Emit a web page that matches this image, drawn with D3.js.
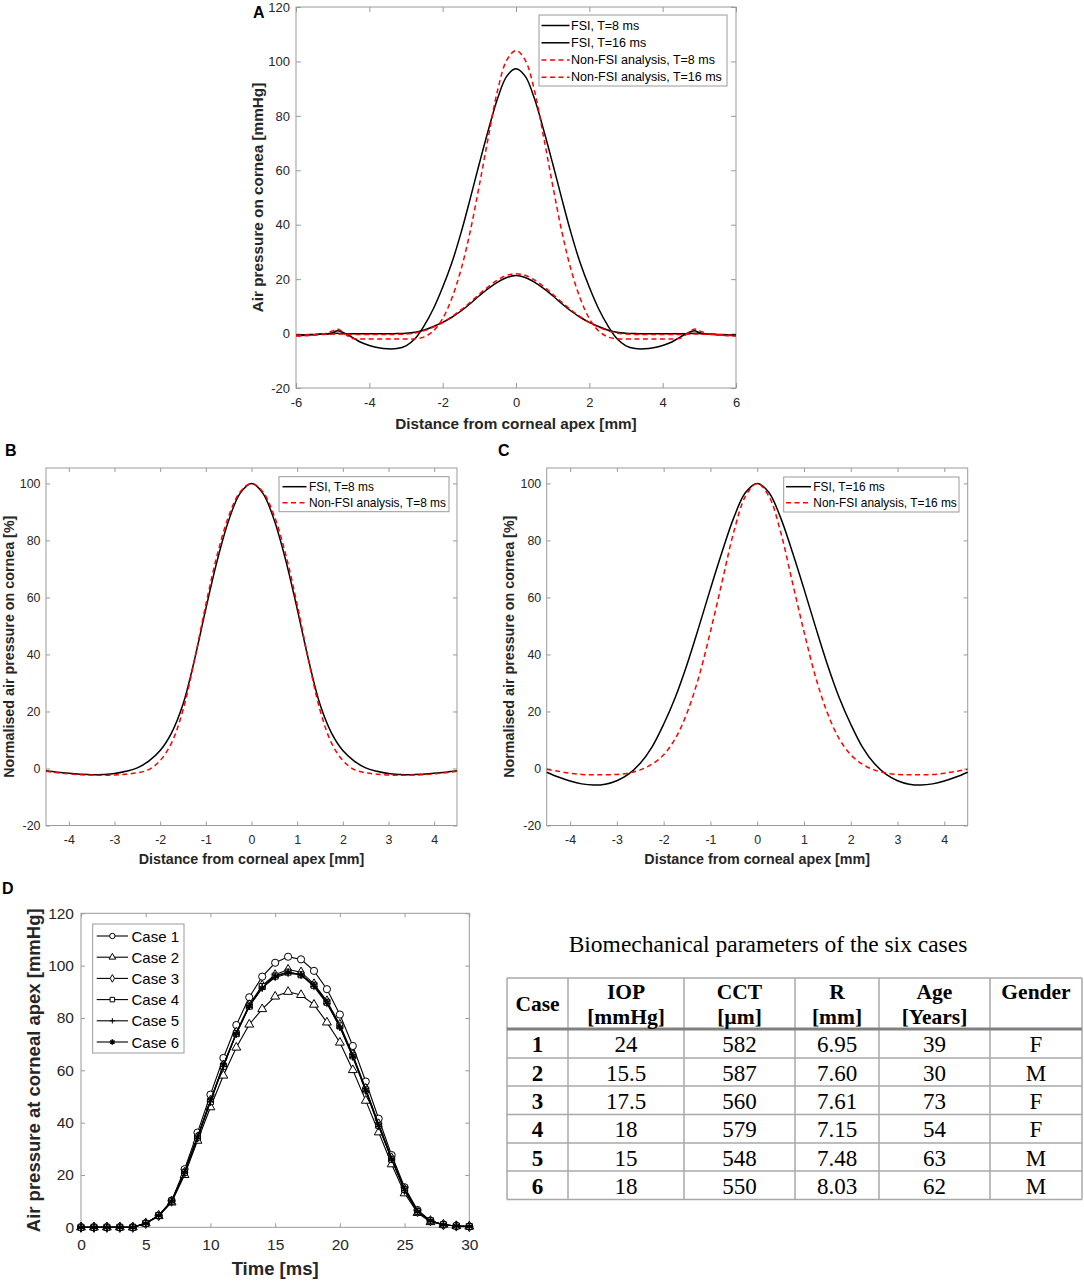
<!DOCTYPE html>
<html>
<head>
<meta charset="utf-8">
<script src="https://cdn.jsdelivr.net/npm/d3@7"></script>
<style>
  body { margin: 0; background: #fff; }
  svg { display: block; font-family: "Liberation Sans", Arial, sans-serif; }
</style>
</head>
<body>
<script>
// ---- data: panel A (mm from apex, pressure in mmHg)
var xA = [-6,-5.75,-5.5,-5.25,-5,-4.875,-4.75,-4.5,-4.25,-4,-3.75,-3.5,-3.25,-3,-2.75,-2.5,-2.25,-2,-1.75,-1.5,-1.25,-1,-0.75,-0.5,-0.25,0,
          0.25,0.5,0.75,1,1.25,1.5,1.75,2,2.25,2.5,2.75,3,3.25,3.5,3.75,4,4.25,4.5,4.75,4.875,5,5.25,5.5,5.75,6];
var fsi8A = [-0.5,-0.4,-0.3,-0.2,0,0.1,0,-0.1,-0.1,-0.1,-0.1,-0.1,0,0.1,0.5,1.3,2.6,4.1,6.0,8.3,11.0,13.9,16.6,18.9,20.6,21.3,
             20.6,18.9,16.6,13.9,11.0,8.3,6.0,4.1,2.6,1.3,0.5,0.1,0,-0.1,-0.1,-0.1,-0.1,-0.1,0,0.1,0,-0.2,-0.3,-0.4,-0.5];
var fsi16A = [-0.7,-0.6,-0.4,-0.2,0.3,1.0,0.6,-1.1,-3.1,-4.4,-5.2,-5.6,-5.5,-4.5,-1.8,3.0,9.2,17.0,26.0,37.0,49.5,62.5,75.0,86.5,94.6,97.3,
              94.6,86.5,75.0,62.5,49.5,37.0,26.0,17.0,9.2,3.0,-1.8,-4.5,-5.5,-5.6,-5.2,-4.4,-3.1,-1.1,0.6,1.0,0.3,-0.2,-0.4,-0.6,-0.7];
var nfsi8A = [-0.6,-0.5,-0.4,-0.3,-0.2,-0.2,-0.2,-0.3,-0.3,-0.3,-0.3,-0.3,-0.3,-0.2,0.2,1.1,2.4,4.0,6.2,8.7,11.5,14.5,17.3,19.7,21.4,22.0,
              21.4,19.7,17.3,14.5,11.5,8.7,6.2,4.0,2.4,1.1,0.2,-0.2,-0.3,-0.3,-0.3,-0.3,-0.3,-0.3,-0.2,-0.2,-0.2,-0.3,-0.4,-0.5,-0.6];
var nfsi16A = [-0.9,-0.8,-0.5,-0.1,1.0,1.7,0.8,-1.6,-2.0,-2.0,-2.0,-2.0,-2.0,-2.0,-1.9,-1.2,1.0,5.5,13.0,23.5,37.5,54.5,72.5,89.5,100.5,104.0,
               100.5,89.5,72.5,54.5,37.5,23.5,13.0,5.5,1.0,-1.2,-1.9,-2.0,-2.0,-2.0,-2.0,-2.0,-2.0,-1.6,0.8,1.7,1.0,-0.1,-0.5,-0.8,-0.9];

// ---- data: panels B and C (normalised, %)
var xBC = [-4.5,-4.25,-4,-3.75,-3.5,-3.25,-3,-2.75,-2.5,-2.25,-2,-1.75,-1.5,-1.25,-1,-0.75,-0.5,-0.25,0,
           0.25,0.5,0.75,1,1.25,1.5,1.75,2,2.25,2.5,2.75,3,3.25,3.5,3.75,4,4.25,4.5];
var fsi8B = [-0.8,-1.3,-1.7,-2.0,-2.2,-2.1,-1.8,-1.0,0.2,2.6,6.3,12.5,22.5,38.0,56.0,73.0,87.0,96.5,100,
             96.5,87.0,73.0,56.0,38.0,22.5,12.5,6.3,2.6,0.2,-1.0,-1.8,-2.1,-2.2,-2.0,-1.7,-1.3,-0.8];
var nfsi8B = [-1.0,-1.5,-1.9,-2.2,-2.3,-2.4,-2.3,-2.0,-1.5,-0.4,2.8,9.0,20.5,38.0,57.5,75.0,88.5,97.0,100,
              97.0,88.5,75.0,57.5,38.0,20.5,9.0,2.8,-0.4,-1.5,-2.0,-2.3,-2.4,-2.3,-2.2,-1.9,-1.5,-1.0];
var fsi16C = [-1.3,-3.0,-4.4,-5.4,-5.8,-5.5,-4.3,-2.0,1.8,7.5,15.5,25.0,36.5,49.5,63.0,76.0,88.0,96.8,100,
              96.8,88.0,76.0,63.0,49.5,36.5,25.0,15.5,7.5,1.8,-2.0,-4.3,-5.5,-5.8,-5.4,-4.4,-3.0,-1.3];
var nfsi16C = [-0.3,-1.0,-1.7,-2.1,-2.2,-2.2,-2.1,-1.6,-0.5,1.5,4.8,10.5,19.5,32.0,48.0,65.5,83.0,95.5,100,
               95.5,83.0,65.5,48.0,32.0,19.5,10.5,4.8,1.5,-0.5,-1.6,-2.1,-2.2,-2.2,-2.1,-1.7,-1.0,-0.3];

// ---- data: panel D (time in ms, pressure at apex in mmHg)
var timeD = [0,1,2,3,4,5,6,7,8,9,10,11,12,13,14,15,16,17,18,19,20,21,22,23,24,25,26,27,28,29,30];
var case1 = [0,0,0,0,0,1.5,4.5,10.2,22.2,36.2,50.7,64.7,77.3,87.9,95.8,101.1,103.4,102.4,98.0,91.0,81.3,69.3,55.7,41.5,27.6,15.3,6.6,2.5,1.0,0.5,0.3];
var case2 = [0,0,0,0,0,1.5,4.3,9.5,20.0,33.1,45.9,58.0,68.7,77.5,83.4,88.2,90.0,88.8,85.1,78.3,70.6,60.1,48.4,36.3,24.1,13.0,5.5,2.0,1.0,0.5,0.3];
var case3 = [0,0,0,0,0,1.5,4.5,10.0,21.0,34.5,48.5,62.0,74.5,85.0,92.5,96.5,98.5,97.5,93.0,86.5,77.5,66.0,53.0,39.5,26.5,14.5,6.0,2.5,1.0,0.5,0.3];
var case4 = [0,0,0,0,0,1.5,4.5,10.0,21.0,34.5,48.0,61.5,74.0,84.5,92.0,96.0,97.5,96.5,92.5,86.0,77.0,65.5,52.5,39.0,26.0,14.5,6.0,2.5,1.0,0.5,0.3];
var case5 = [0,0,0,0,0,1.5,4.5,10.0,21.0,34.0,48.0,61.5,74.0,84.5,91.5,95.5,97.0,96.5,92.0,85.5,76.5,65.0,52.0,38.5,26.0,14.0,6.0,2.5,1.0,0.5,0.3];
var case6 = [0,0,0,0,0,1.5,4.5,10.0,21.0,34.5,48.5,62.0,74.0,84.5,91.5,96.0,97.5,96.5,92.5,86.0,76.5,65.5,52.5,39.0,26.0,14.5,6.0,2.5,1.0,0.5,0.3];
var caseNames = ["Case 1","Case 2","Case 3","Case 4","Case 5","Case 6"];

// ---- data: table
var tableTitle = "Biomechanical parameters of the six cases";
var headTop = ["Case","IOP","CCT","R","Age","Gender"];
var headBottom = ["","[mmHg]","[\u00b5m]","[mm]","[Years]",""];
var colCase = ["1","2","3","4","5","6"];
var colIOP = ["24","15.5","17.5","18","15","18"];
var colCCT = ["582","587","560","579","548","550"];
var colR = ["6.95","7.60","7.61","7.15","7.48","8.03"];
var colAge = ["39","30","73","54","63","62"];
var colGender = ["F","M","F","F","M","M"];

// ---- drawing
var W = 1084, H = 1281;
var svg = d3.select("body").append("svg").attr("width", W).attr("height", H);
svg.append("rect").attr("width", W).attr("height", H).attr("fill", "#fff");

var axisGrey = "#9a9a9a", textCol = "#262626";
var fmt = function(d){ return String(d); };

function panel(p) {
  var x = d3.scaleLinear().domain(p.xDom).range([p.left, p.right]);
  var y = d3.scaleLinear().domain(p.yDom).range([p.bottom, p.top]);
  var g = svg.append("g");

  var ax = [
    [d3.axisBottom(x).tickValues(p.xTicks).tickFormat(fmt).tickPadding(p.xPad), "translate(0," + p.bottom + ")"],
    [d3.axisTop(x).tickValues(p.xTicks).tickFormat(""), "translate(0," + p.top + ")"],
    [d3.axisLeft(y).tickValues(p.yTicks).tickFormat(fmt).tickPadding(p.yPad), "translate(" + p.left + ",0)"],
    [d3.axisRight(y).tickValues(p.yTicks).tickFormat(""), "translate(" + p.right + ",0)"]
  ];
  ax.forEach(function(a){
    var s = g.append("g").attr("transform", a[1])
      .call(a[0].tickSizeInner(-p.tick).tickSizeOuter(0));
    s.select(".domain").remove();
    s.selectAll("line").attr("stroke", axisGrey);
    s.selectAll("text").attr("fill", textCol).style("font-size", p.tickFont + "px")
      .style("font-family", "'Liberation Sans', Arial, sans-serif");
  });
  g.append("rect").attr("x", p.left).attr("y", p.top)
    .attr("width", p.right - p.left).attr("height", p.bottom - p.top)
    .attr("fill", "none").attr("stroke", axisGrey).attr("stroke-width", 1);

  // axis titles
  g.append("text").attr("x", (p.left + p.right) / 2).attr("y", p.xLabY)
    .attr("text-anchor", "middle").attr("dominant-baseline", "central")
    .attr("font-weight", "bold").attr("font-size", p.labFont).attr("fill", textCol)
    .text(p.xLabel);
  g.append("text").attr("transform", "translate(" + p.yLabX + "," + ((p.top + p.bottom) / 2) + ") rotate(-90)")
    .attr("text-anchor", "middle").attr("dominant-baseline", "central")
    .attr("font-weight", "bold").attr("font-size", p.labFont).attr("fill", textCol)
    .text(p.yLabel);

  // panel letter
  g.append("text").attr("x", p.letter[1]).attr("y", p.letter[2])
    .attr("font-weight", "bold").attr("font-size", 16).attr("fill", "#000")
    .text(p.letter[0]);

  // curves
  var line = d3.line().x(function(d){ return x(d[0]); }).y(function(d){ return y(d[1]); })
    .curve(p.curve || d3.curveCatmullRom.alpha(0.5));
  p.series.forEach(function(s){
    var pts = s.x.map(function(v, i){ return [v, s.y[i]]; });
    g.append("path").datum(pts).attr("d", line)
      .attr("fill", "none").attr("stroke", s.color).attr("stroke-width", s.width || 1.5)
      .attr("stroke-dasharray", s.dash || null);
    if (s.marker) {
      g.selectAll(null).data(pts).enter().append("path")
        .attr("transform", function(d){ return "translate(" + x(d[0]) + "," + y(d[1]) + ")"; })
        .attr("d", markerPath(s.marker, 1))
        .attr("fill", markerFill(s.marker)).attr("stroke", "#000")
        .attr("stroke-width", s.marker === "star" ? 1.6 : 1);
    }
  });

  // legend
  var L = p.legend;
  g.append("rect").attr("x", L.box[0]).attr("y", L.box[1])
    .attr("width", L.box[2] - L.box[0]).attr("height", L.box[3] - L.box[1])
    .attr("fill", "#fff").attr("stroke", axisGrey).attr("stroke-width", 1);
  p.series.forEach(function(s, i){
    var yy = L.rows[i];
    g.append("line").attr("x1", L.sample[0]).attr("x2", L.sample[1]).attr("y1", yy).attr("y2", yy)
      .attr("stroke", s.color).attr("stroke-width", s.width || 1.5).attr("stroke-dasharray", s.dash || null);
    if (s.marker) {
      g.append("path").attr("transform", "translate(" + ((L.sample[0] + L.sample[1]) / 2) + "," + yy + ")")
        .attr("d", markerPath(s.marker, 0.75))
        .attr("fill", markerFill(s.marker)).attr("stroke", "#000")
        .attr("stroke-width", s.marker === "star" ? 1.6 : 1);
    }
    g.append("text").attr("x", L.textX).attr("y", yy).attr("dominant-baseline", "central")
      .attr("font-size", L.font).attr("fill", "#000").text(s.name);
  });
}

function markerPath(kind, k) {
  var r = 3.6 * k;
  if (kind === "circle") return d3.symbol(d3.symbolCircle, Math.PI * r * r)();
  if (kind === "triangle") return d3.symbol(d3.symbolTriangle, 34 * k * k)();
  if (kind === "diamond") return d3.symbol(d3.symbolDiamond, 30 * k * k)();
  if (kind === "square") return d3.symbol(d3.symbolSquare, 36 * k * k)();
  if (kind === "plus") return "M" + (-r) + ",0H" + r + "M0," + (-r) + "V" + r;
  // asterisk
  var a = r * 0.87, b = r * 0.5;
  return "M0," + (-r) + "V" + r + "M" + (-a) + "," + (-b) + "L" + a + "," + b + "M" + (-a) + "," + b + "L" + a + "," + (-b);
}
function markerFill(kind) { return (kind === "plus" || kind === "star") ? "none" : "#fff"; }

// panel A
panel({
  left: 296, right: 736, top: 7, bottom: 388,
  xDom: [-6, 6], yDom: [-20, 120],
  xTicks: [-6,-4,-2,0,2,4,6], yTicks: [-20,0,20,40,60,80,100,120],
  tick: 5, tickFont: 13, xPad: 10, yPad: 6,
  xLabel: "Distance from corneal apex [mm]", yLabel: "Air pressure on cornea [mmHg]",
  labFont: 15.3, xLabY: 423, yLabX: 257,
  letter: ["A", 253, 18],
  series: [
    {name: "FSI, T=8 ms", x: xA, y: fsi8A, color: "#000"},
    {name: "FSI, T=16 ms", x: xA, y: fsi16A, color: "#000"},
    {name: "Non-FSI analysis, T=8 ms", x: xA, y: nfsi8A, color: "#ff0000", dash: "5,3.5"},
    {name: "Non-FSI analysis, T=16 ms", x: xA, y: nfsi16A, color: "#ff0000", dash: "5,3.5"}
  ],
  legend: {box: [539, 15, 727, 86], rows: [25.5, 42.8, 60, 77.3], sample: [541.5, 569.5], textX: 571, font: 12.5}
});

// panel B
panel({
  left: 46, right: 457, top: 468, bottom: 825.5,
  xDom: [-4.5, 4.5], yDom: [-20, 105.4],
  xTicks: [-4,-3,-2,-1,0,1,2,3,4], yTicks: [-20,0,20,40,60,80,100],
  tick: 4, tickFont: 12.4, xPad: 9.5, yPad: 5.5,
  xLabel: "Distance from corneal apex [mm]", yLabel: "Normalised air pressure on cornea [%]",
  labFont: 14.3, xLabY: 858.5, yLabX: 8.5,
  letter: ["B", 5, 456],
  series: [
    {name: "FSI, T=8 ms", x: xBC, y: fsi8B, color: "#000"},
    {name: "Non-FSI analysis, T=8 ms", x: xBC, y: nfsi8B, color: "#ff0000", dash: "5,3.5"}
  ],
  legend: {box: [279, 476.7, 449, 511.7], rows: [486.7, 502.7], sample: [282.5, 306.5], textX: 309, font: 11.9}
});

// panel C
panel({
  left: 546.7, right: 967.7, top: 468, bottom: 825.5,
  xDom: [-4.5, 4.5], yDom: [-20, 105.4],
  xTicks: [-4,-3,-2,-1,0,1,2,3,4], yTicks: [-20,0,20,40,60,80,100],
  tick: 4, tickFont: 12.4, xPad: 9.5, yPad: 5.5,
  xLabel: "Distance from corneal apex [mm]", yLabel: "Normalised air pressure on cornea [%]",
  labFont: 14.3, xLabY: 858.5, yLabX: 508.5,
  letter: ["C", 498, 456],
  series: [
    {name: "FSI, T=16 ms", x: xBC, y: fsi16C, color: "#000"},
    {name: "Non-FSI analysis, T=16 ms", x: xBC, y: nfsi16C, color: "#ff0000", dash: "5,3.5"}
  ],
  legend: {box: [783.7, 477, 959, 512], rows: [486.7, 502.7], sample: [786, 811], textX: 813.3, font: 11.9}
});

// panel D
var markers = ["circle","triangle","diamond","square","plus","star"];
var cases = [case1, case2, case3, case4, case5, case6];
panel({
  left: 81, right: 469.3, top: 913.3, bottom: 1227.3,
  xDom: [0, 30], yDom: [0, 120],
  xTicks: [0,5,10,15,20,25,30], yTicks: [0,20,40,60,80,100,120],
  tick: 4, tickFont: 15.5, xPad: 12, yPad: 7,
  xLabel: "Time [ms]", yLabel: "Air pressure at corneal apex [mmHg]",
  labFont: 18.5, xLabY: 1268.5, yLabX: 33.5,
  letter: ["D", 2, 894],
  curve: d3.curveLinear,
  series: cases.map(function(c, i){
    return {name: caseNames[i], x: timeD, y: c, color: "#000", width: 1.1, marker: markers[i]};
  }),
  legend: {box: [92.7, 924, 184, 1053], rows: [936, 957.2, 978.4, 999.6, 1020.8, 1042], sample: [96.7, 128], textX: 131.5, font: 15}
});

// table
var tg = svg.append("g").style("font-family", "'Liberation Serif', 'Times New Roman', serif");
tg.append("text").attr("x", 768).attr("y", 952).attr("text-anchor", "middle")
  .attr("font-size", 23.5).attr("fill", "#000").text(tableTitle);

var colEdges = [507, 568, 684, 795, 879, 990, 1082];
var headY = [978, 1029];
var rowEdges = [1029, 1058, 1086, 1114.5, 1143, 1171, 1199.5];
var lineGrey = "#a8a8a8";

// cell borders
tg.append("line").attr("x1", colEdges[0]).attr("x2", colEdges[6]).attr("y1", headY[0]).attr("y2", headY[0])
  .attr("stroke", lineGrey).attr("stroke-width", 1.5);
rowEdges.slice(1).forEach(function(yy){
  tg.append("line").attr("x1", colEdges[0]).attr("x2", colEdges[6]).attr("y1", yy).attr("y2", yy)
    .attr("stroke", lineGrey).attr("stroke-width", 1.5);
});
colEdges.forEach(function(xx){
  tg.append("line").attr("x1", xx).attr("x2", xx).attr("y1", headY[0]).attr("y2", rowEdges[6])
    .attr("stroke", lineGrey).attr("stroke-width", 1.5);
});
tg.append("line").attr("x1", colEdges[0]).attr("x2", colEdges[6]).attr("y1", headY[1]).attr("y2", headY[1])
  .attr("stroke", "#808080").attr("stroke-width", 3);

var colMid = colEdges.slice(0, 6).map(function(e, i){ return (e + colEdges[i + 1]) / 2; });
headTop.forEach(function(t, i){
  var yy = (i === 0) ? 1004 : 992;
  tg.append("text").attr("x", colMid[i]).attr("y", yy).attr("text-anchor", "middle")
    .attr("dominant-baseline", "central").attr("font-weight", "bold").attr("font-size", 21.5)
    .attr("fill", "#000").text(t);
  if (headBottom[i]) {
    tg.append("text").attr("x", colMid[i]).attr("y", 1017).attr("text-anchor", "middle")
      .attr("dominant-baseline", "central").attr("font-weight", "bold").attr("font-size", 21.5)
      .attr("fill", "#000").text(headBottom[i]);
  }
});
var cols = [colCase, colIOP, colCCT, colR, colAge, colGender];
cols.forEach(function(col, c){
  col.forEach(function(v, r){
    tg.append("text").attr("x", colMid[c]).attr("y", (rowEdges[r] + rowEdges[r + 1]) / 2 + 1)
      .attr("text-anchor", "middle").attr("dominant-baseline", "central")
      .attr("font-weight", c === 0 ? "bold" : "normal").attr("font-size", 23)
      .attr("fill", "#000").text(v);
  });
});
</script>
</body>
</html>
